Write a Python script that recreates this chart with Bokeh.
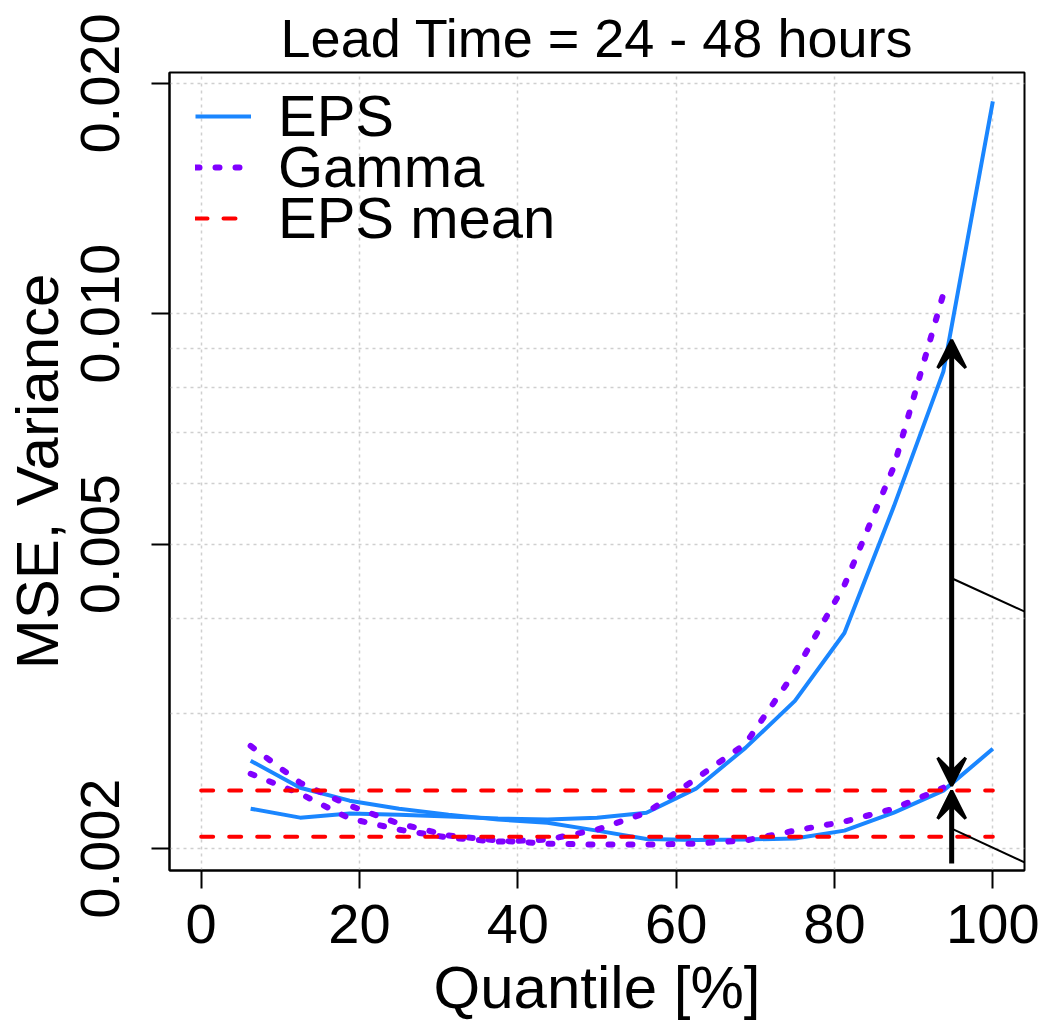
from bokeh.plotting import figure
from bokeh.models import (FixedTicker, Arrow, VeeHead, Legend, LegendItem,
                          Range1d, PrintfTickFormatter)
from bokeh.embed import file_html
from bokeh.resources import INLINE

# ---------------- data ----------------
quantiles = [6.25, 12.5, 18.75, 25, 31.25, 37.5, 43.75, 50, 56.25, 62.5,
             68.75, 75, 81.25, 87.5, 93.75, 100]
# EPS curve that starts high and ends low
eps_low_end = [0.002605, 0.002402, 0.002310, 0.002255, 0.002215, 0.002182,
               0.002162, 0.002111, 0.002058, 0.002052, 0.002055, 0.002062,
               0.002111, 0.002228, 0.002381, 0.002700]
# EPS curve that starts low and ends high
eps_high_end = [0.002255, 0.002195, 0.002222, 0.002215, 0.002202, 0.002189,
                0.002182, 0.002195, 0.002228, 0.002395, 0.002708, 0.003119,
                0.003826, 0.005602, 0.008402, 0.018948]

gamma_quantiles = quantiles[:-1]
gamma_low_end = [0.002724, 0.002438, 0.002276, 0.002156, 0.002080, 0.002049,
                 0.002030, 0.002024, 0.002024, 0.002030, 0.002049, 0.002111,
                 0.002169, 0.002255, 0.002402]
gamma_high_end = [0.002505, 0.002359, 0.002189, 0.002117, 0.002067, 0.002042,
                  0.002055, 0.002117, 0.002228, 0.002468, 0.002741, 0.003403,
                  0.004418, 0.006315, 0.010616]

mean_x = [0, 100]
eps_mean_levels = [0.002381, 0.002073]

x_ticks = [0, 20, 40, 60, 80, 100]
y_ticks = [0.002, 0.005, 0.010, 0.020]
y_grid = [0.002, 0.003, 0.004, 0.005, 0.006, 0.007, 0.008, 0.009, 0.010, 0.020]

legend_labels = ["EPS", "Gamma", "EPS mean"]

arrow_x = 94.8
long_arrow_y = [0.002416, 0.009246]
short_arrow_y = [0.001912, 0.002380]
pointer_x = [94.8, 106.2]
pointer_upper_y = [0.004512, 0.003985]
pointer_lower_y = [0.002124, 0.001873]

BLUE = "#1A86FF"
PURPLE = "#8000FF"
RED = "#FF0000"
FONT = "Liberation Sans"

# ---------------- figure ----------------
p = figure(width=1041, height=1023, y_axis_type="log",
           x_range=Range1d(-4, 104), y_range=Range1d(0.0018722, 0.020672),
           output_backend="svg", toolbar_location=None,
           min_border_left=169, min_border_right=17,
           min_border_top=70, min_border_bottom=153)

p.outline_line_color = "black"
p.outline_line_width = 2
p.background_fill_color = "white"
p.border_fill_color = "white"

# grids
p.xgrid.ticker = FixedTicker(ticks=x_ticks)
p.ygrid.ticker = FixedTicker(ticks=y_grid)
for g in (p.xgrid, p.ygrid):
    g.grid_line_color = "#CFCFCF"
    g.grid_line_width = 1.5
    g.grid_line_dash = "3 4"

# axes
xa = p.xaxis[0]
ya = p.yaxis[0]
xa.ticker = FixedTicker(ticks=x_ticks)
ya.ticker = FixedTicker(ticks=y_ticks)
ya.formatter = PrintfTickFormatter(format="%.3f")
for ax in (xa, ya):
    ax.axis_line_color = "black"
    ax.axis_line_width = 2
    ax.major_tick_line_color = "black"
    ax.major_tick_line_width = 2
    ax.major_tick_out = 18
    ax.major_tick_in = 0
    ax.minor_tick_line_color = None
    ax.major_label_text_font = FONT
    ax.major_label_text_font_size = "56px"
    ax.major_label_text_color = "black"
    ax.axis_label_text_font = FONT
    ax.axis_label_text_font_size = "60px"
    ax.axis_label_text_font_style = "normal"
    ax.axis_label_text_color = "black"
ya.major_label_orientation = "vertical"
ya.major_label_standoff = 32
xa.major_label_standoff = 16
xa.axis_label = "Quantile [%]"
ya.axis_label = "MSE, Variance"
xa.axis_label_standoff = 8
ya.axis_label_standoff = 8

# title
p.title.text = "Lead Time = 24 - 48 hours"
p.title.align = "center"
p.title.text_font = FONT
p.title.text_font_size = "54px"
p.title.text_font_style = "normal"
p.title.text_color = "black"

# ---------------- lines ----------------
r_eps = p.line(quantiles, eps_high_end, line_color=BLUE, line_width=4)
p.line(quantiles, eps_low_end, line_color=BLUE, line_width=4)

r_gam = p.line(gamma_quantiles, gamma_high_end, line_color=PURPLE, line_width=6,
               line_dash="4 16", line_cap="round")
p.line(gamma_quantiles, gamma_low_end, line_color=PURPLE, line_width=6,
       line_dash="4 16", line_cap="round")

r_mean = None
for lvl in eps_mean_levels:
    r = p.line(mean_x, [lvl, lvl], line_color=RED, line_width=4,
               line_dash="12 16", line_cap="round")
    if r_mean is None:
        r_mean = r

# ---------------- arrows ----------------
def head():
    return VeeHead(size=28, fill_color="black", fill_alpha=1.0,
                   line_color="black", line_width=3)

p.add_layout(Arrow(x_start=arrow_x, y_start=long_arrow_y[0],
                   x_end=arrow_x, y_end=long_arrow_y[1],
                   start=head(), end=head(),
                   line_color="black", line_width=5))
p.add_layout(Arrow(x_start=arrow_x, y_start=short_arrow_y[0],
                   x_end=arrow_x, y_end=short_arrow_y[1],
                   start=None, end=head(),
                   line_color="black", line_width=5))
# thin pointer lines running out to the right
for ys in (pointer_upper_y, pointer_lower_y):
    p.add_layout(Arrow(x_start=pointer_x[0], y_start=ys[0],
                       x_end=pointer_x[1], y_end=ys[1],
                       start=None, end=None,
                       line_color="black", line_width=2))

# ---------------- legend (one entry per block for tight R-like spacing) ----
legend_renderers = [r_eps, r_gam, r_mean]
legend_offsets = [721, 670, 619]
for lab, rend, off in zip(legend_labels, legend_renderers, legend_offsets):
    lg = Legend(items=[LegendItem(label=lab, renderers=[rend])],
                location=(26, off), glyph_width=56, glyph_height=20,
                label_standoff=27, padding=0, margin=0, spacing=0,
                label_text_font=FONT, label_text_font_size="58px",
                label_text_color="black",
                background_fill_alpha=0, border_line_alpha=0)
    p.add_layout(lg)

open("out.html", "w").write(file_html(p, INLINE))
